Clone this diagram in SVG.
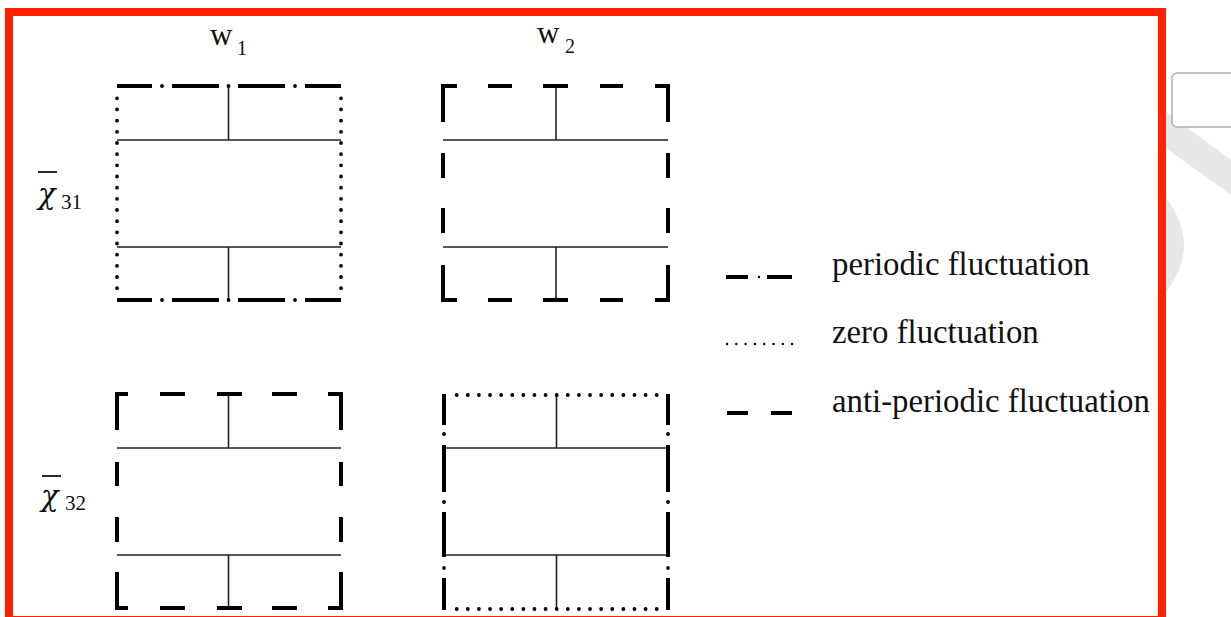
<svg xmlns="http://www.w3.org/2000/svg" width="1231" height="617" viewBox="0 0 1231 617">
<style>
.thin{stroke:#222;stroke-width:1.6;fill:none}
.thick{stroke:#000;stroke-width:4;fill:none;stroke-linecap:butt;stroke-linejoin:miter}
.dot{stroke:#000;stroke-width:3.8;fill:none;stroke-linecap:round}
.dotS{stroke:#000;stroke-width:2.4;fill:none;stroke-linecap:round}
.lbl{font-family:"Liberation Serif","Times New Roman",serif;fill:#111}
.chi{font-family:"DejaVu Serif","Liberation Serif",serif;font-style:italic;fill:#111}
</style>
<rect width="1231" height="617" fill="#fff"/>
<!-- faint background marks outside frame -->
<path d="M1166,112 L1231,160 L1231,195 L1166,148 Z" fill="#e8e8e8"/>
<path d="M1166,198 Q1202,245 1166,292 Z" fill="#e8e8e8"/>
<rect x="1172" y="73" width="80" height="54" rx="5" fill="#fff" stroke="#b0b0b0" stroke-width="1.5"/>

<g id="labels">
<text class="lbl" x="210" y="45" font-size="31">w</text>
<text class="lbl" x="237" y="55" font-size="20">1</text>
<text class="lbl" x="537" y="43" font-size="31">w</text>
<text class="lbl" x="565" y="53" font-size="20">2</text>
<line x1="38" y1="172" x2="57" y2="172" stroke="#111" stroke-width="1.8"/>
<text class="chi" x="38" y="204" font-size="29">χ</text>
<text class="lbl" x="61" y="209" font-size="21">31</text>
<line x1="42" y1="476" x2="61" y2="476" stroke="#111" stroke-width="1.8"/>
<text class="chi" x="41" y="506" font-size="29">χ</text>
<text class="lbl" x="65" y="510" font-size="21">32</text>
</g>

<g id="box-x31-w1">
<path class="thin" d="M117,140 H341 M117,247 H341 M228.5,86 V140 M228.5,247 V300"/>
<path class="thick" d="M117,86 H152 M172,86 H219 M238,86 H285 M305,86 H341 M117,300 H152 M172,300 H219 M238,300 H285 M305,300 H341"/>
<path class="dot" stroke-dasharray="0 66.5" d="M162,86 H340 M162,300 H340"/>
<path class="dot" stroke-dasharray="0 11.17" d="M117,98.3 V290 M341,98.3 V290"/>
</g>

<g id="box-x31-w2">
<path class="thin" d="M443,140 H668 M443,247 H668 M556,86 V140 M556,247 V300"/>
<path class="thick" d="M443,122 V86 H457 M488,86 H512 M543,86 H568 M600,86 H623 M655,86 H668 V122
M443,153 V178 M443,208 V233 M668,153 V178 M668,208 V233
M443,265 V300 H457 M488,300 H512 M543,300 H568 M600,300 H623 M655,300 H668 V265"/>
</g>

<g id="box-x32-w1">
<path class="thin" d="M117,448 H341 M117,555 H341 M228.5,394 V448 M228.5,555 V608"/>
<path class="thick" d="M117,430 V394 H128 M160,394 H185 M217,394 H242 M272,394 H297 M328,394 H341 V430
M117,462 V486 M117,517 V542 M341,462 V486 M341,517 V542
M117,572 V608 H128 M160,608 H185 M217,608 H242 M272,608 H297 M328,608 H341 V572"/>
</g>

<g id="box-x32-w2">
<path class="thin" d="M444,448 H668 M444,555 H668 M556.5,395 V448 M556.5,555 V609"/>
<path class="thick" d="M444,394 V425 M444,445 V492 M444,512 V557 M444,578 V610
M668,394 V425 M668,445 V492 M668,512 V557 M668,578 V610"/>
<path class="dot" d="M444,434 h0 M444,502 h0 M444,568 h0 M668,434 h0 M668,502 h0 M668,568 h0"/>
<path class="dot" stroke-dasharray="0 11.111" d="M456.7,395 H660 M456.7,609 H660"/>
</g>

<g id="legend">
<path class="thick" stroke-width="3.5" d="M726,277 H748 M767,277 H792 M727,413 H748 M771,413 H792"/>
<path class="dotS" d="M759,277 h0"/>
<path class="dotS" stroke-dasharray="0 9.3" d="M727,344 H795"/>
<text class="lbl" x="832" y="275" font-size="32.8">periodic fluctuation</text>
<text class="lbl" x="832" y="343" font-size="32.8">zero fluctuation</text>
<text class="lbl" x="832" y="412" font-size="32.8">anti-periodic fluctuation</text>
</g>

<rect x="9" y="12" width="1153" height="608" fill="none" stroke="#ff2200" stroke-width="8"/>
</svg>
